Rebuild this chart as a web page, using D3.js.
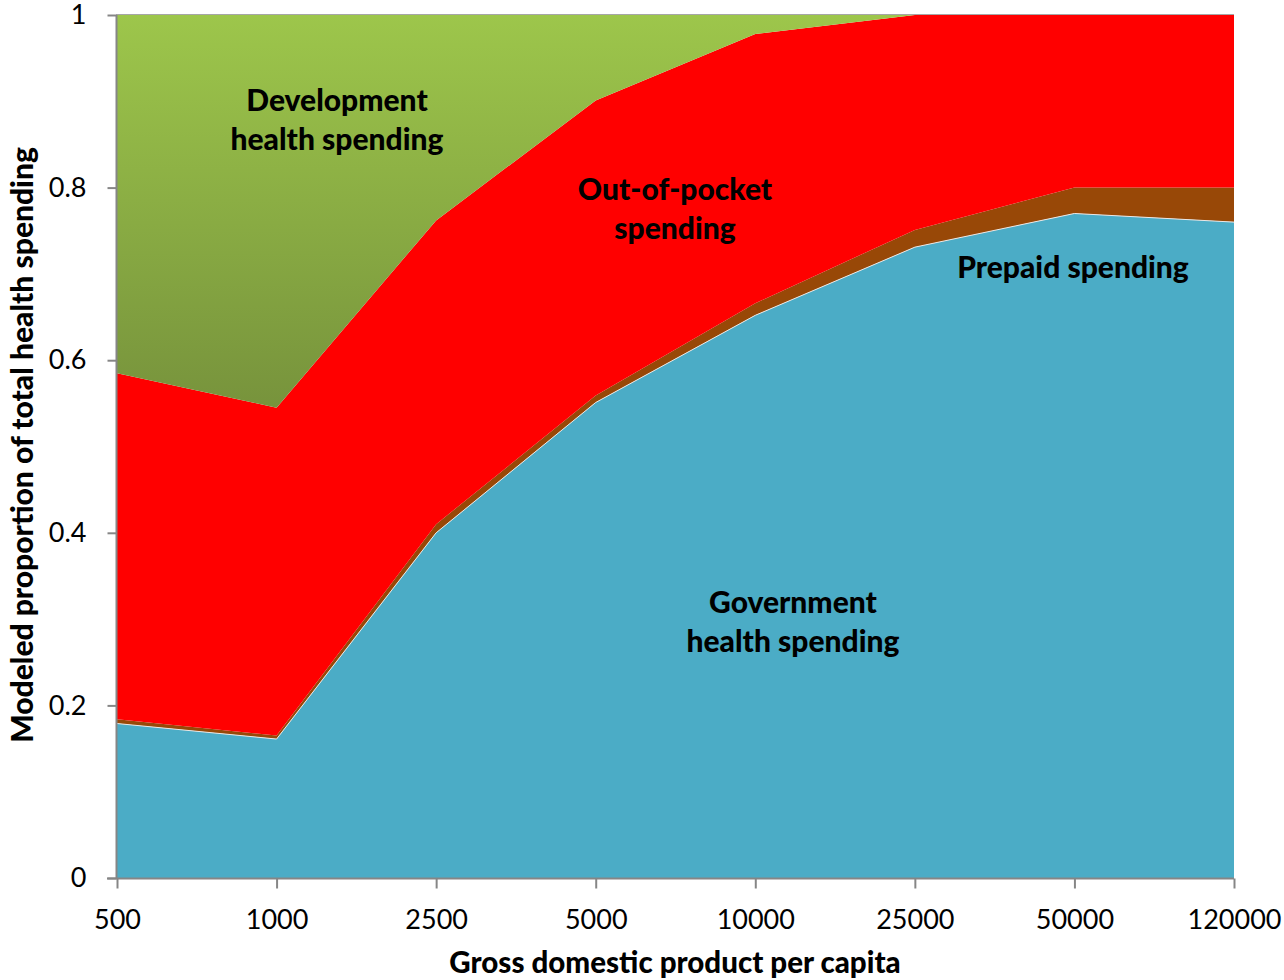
<!DOCTYPE html>
<html>
<head>
<meta charset="utf-8">
<script src="https://cdn.jsdelivr.net/npm/d3@7"></script>
<style>
  html, body { margin: 0; padding: 0; background: #fff; }
  svg { display: block; }
  text { font-family: Lato, "Open Sans", sans-serif; }
</style>
</head>
<body>
<svg id="chart" width="1284" height="980"></svg>
<script>
// ---- data ----
const categories = ["500", "1000", "2500", "5000", "10000", "25000", "50000", "120000"];
const government = [0.179, 0.161, 0.400, 0.551, 0.652, 0.731, 0.770, 0.760];
const prepaid    = [0.005, 0.004, 0.010, 0.008, 0.014, 0.020, 0.030, 0.040];
const outOfPocket= [0.401, 0.380, 0.352, 0.342, 0.312, 0.249, 0.200, 0.200];
const development= [0.415, 0.455, 0.238, 0.099, 0.022, 0.000, 0.000, 0.000];
const yTicks = [0, 0.2, 0.4, 0.6, 0.8, 1];
const yTickLabels = ["0", "0.2", "0.4", "0.6", "0.8", "1"];
const seriesKeys = ["government", "prepaid", "outOfPocket", "development"];

const rows = categories.map((c, i) => ({
  cat: c,
  government: government[i],
  prepaid: prepaid[i],
  outOfPocket: outOfPocket[i],
  development: development[i]
}));

const svg = d3.select("#chart");
const pLeft = 117, pRight = 1234, pTop = 15, pBottom = 878;

const x = d3.scalePoint().domain(categories).range([pLeft, pRight]);
const y = d3.scaleLinear().domain([0, 1]).range([pBottom, pTop]);

const stack = d3.stack().keys(seriesKeys);
const layers = stack(rows);

const defs = svg.append("defs");
const grad = defs.append("linearGradient")
  .attr("id", "devGrad")
  .attr("gradientUnits", "userSpaceOnUse")
  .attr("x1", 0).attr("x2", 0)
  .attr("y1", y(1)).attr("y2", y(0.545));
grad.append("stop").attr("offset", "0%").attr("stop-color", "#9DC64B");
grad.append("stop").attr("offset", "100%").attr("stop-color", "#77933C");

const fills = {
  government: "#4BACC6",
  prepaid: "#984807",
  outOfPocket: "#FF0000",
  development: "url(#devGrad)"
};

const area = d3.area()
  .x(d => x(d.data.cat))
  .y0(d => y(d[0]))
  .y1(d => y(d[1]));

// top border line
svg.append("line")
  .attr("x1", pLeft - 1).attr("x2", pRight)
  .attr("y1", pTop - 0.5).attr("y2", pTop - 0.5)
  .attr("stroke", "#A6A6A6").attr("stroke-width", 1);

svg.append("g").selectAll("path")
  .data(layers)
  .join("path")
  .attr("d", area)
  .attr("fill", d => fills[d.key]);

// thin light edge on top of government area
const govLine = d3.line()
  .x(d => x(d.data.cat))
  .y(d => y(d[1]));
svg.append("path")
  .attr("d", govLine(layers[0]))
  .attr("fill", "none")
  .attr("stroke", "#E8E8E8")
  .attr("stroke-width", 1);

// axes
const axisColor = "#868686";
const yAxis = svg.append("g")
  .attr("transform", `translate(${pLeft - 0.5},0)`)
  .call(d3.axisLeft(y).tickValues(yTicks).tickFormat((d, i) => yTickLabels[i]).tickSize(9).tickPadding(21));
yAxis.select(".domain").attr("stroke", axisColor).attr("stroke-width", 2).attr("d", `M0,${pTop}V${pBottom}`);
yAxis.selectAll(".tick line").attr("stroke", axisColor).attr("stroke-width", 2);
yAxis.selectAll(".tick text").attr("font-size", 27).attr("fill", "#000")
  .style("font-family", "Lato, sans-serif");

const xAxis = svg.append("g")
  .attr("transform", `translate(0,${pBottom + 0.5})`)
  .call(d3.axisBottom(x).tickSize(10).tickPadding(21));
xAxis.select(".domain").attr("stroke", axisColor).attr("stroke-width", 2).attr("d", `M${pLeft - 10},0H${pRight}`);
xAxis.selectAll(".tick line").attr("stroke", axisColor).attr("stroke-width", 2);
xAxis.selectAll(".tick text").attr("font-size", 27).attr("fill", "#000")
  .style("font-family", "Lato, sans-serif");

// axis titles
svg.append("text")
  .attr("x", 675).attr("y", 961)
  .attr("text-anchor", "middle").attr("dominant-baseline", "central")
  .attr("font-size", 29.5).attr("font-weight", 900)
  .text("Gross domestic product per capita");

svg.append("text")
  .attr("transform", "translate(21,445) rotate(-90)")
  .attr("text-anchor", "middle").attr("dominant-baseline", "central")
  .attr("font-size", 30).attr("font-weight", 900)
  .text("Modeled proportion of total health spending");

// annotations
const labels = [
  { lines: ["Development", "health spending"], x: 337, y: 99 },
  { lines: ["Out-of-pocket", "spending"], x: 675, y: 188 },
  { lines: ["Prepaid spending"], x: 1073, y: 266 },
  { lines: ["Government", "health spending"], x: 793, y: 601 }
];
labels.forEach(l => {
  l.lines.forEach((t, i) => {
    svg.append("text")
      .attr("x", l.x).attr("y", l.y + i * 39)
      .attr("text-anchor", "middle").attr("dominant-baseline", "central")
      .attr("font-size", 30).attr("font-weight", 900).attr("fill", "#000")
      .text(t);
  });
});
</script>
</body>
</html>
